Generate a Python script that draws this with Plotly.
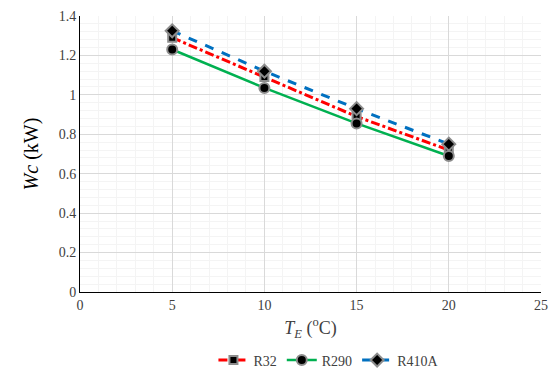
import plotly.graph_objects as go

te = [5, 10, 15, 20]
r32 = [1.29, 1.09, 0.89, 0.72]
r290 = [1.23, 1.035, 0.855, 0.69]
r410a = [1.325, 1.12, 0.93, 0.75]

font = "Times New Roman, Liberation Serif, serif"
fig = go.Figure()
mk_line = dict(color="#8c8c8c", width=2)
fig.add_trace(go.Scatter(x=te, y=r32, name="R32", mode="lines+markers",
    line=dict(color="#ff0000", width=3, dash="dashdot"),
    marker=dict(symbol="square", size=8, color="black", line=mk_line)))
fig.add_trace(go.Scatter(x=te, y=r290, name="R290", mode="lines+markers",
    line=dict(color="#00b050", width=2.5),
    marker=dict(symbol="circle", size=10, color="black", line=mk_line)))
fig.add_trace(go.Scatter(x=te, y=r410a, name="R410A", mode="lines+markers",
    line=dict(color="#0070c0", width=3, dash="dash"),
    marker=dict(symbol="diamond", size=10, color="black", line=mk_line)))

fig.update_layout(
    width=553, height=374,
    margin=dict(l=80, r=12, t=16, b=82, autoexpand=False),
    paper_bgcolor="white", plot_bgcolor="white",
    font=dict(family=font, size=14, color="#404040"),
    showlegend=True,
    legend=dict(orientation="h", x=0.54, xanchor="center", y=-0.19, yanchor="top",
                font=dict(family=font, size=14, color="#404040")),
    xaxis=dict(range=[0, 25], dtick=5, showline=True, linecolor="black", linewidth=1,
               gridcolor="#d9d9d9", gridwidth=1, zeroline=False, ticks="", automargin=False,
               minor=dict(dtick=1, showgrid=True, gridcolor="#f4f4f4"),
               title=dict(text="<i>T<sub>E</sub></i> (<sup>o</sup>C)", font=dict(family=font, size=18, color="#404040"), standoff=9),
               tickfont=dict(family=font, size=14, color="#404040")),
    yaxis=dict(range=[0, 1.4], dtick=0.2, showline=True, linecolor="black", linewidth=1,
               gridcolor="#d9d9d9", gridwidth=1, zeroline=False, ticks="", automargin=False,
               minor=dict(dtick=0.04, showgrid=True, gridcolor="#f4f4f4"),
               title=dict(text="<i>Wc</i> (kW)", font=dict(family=font, size=20, color="black"), standoff=14),
               tickfont=dict(family=font, size=14, color="#404040")),
)
fig.write_html("out.html", config={"displayModeBar": False},
               post_script="document.body.style.margin='0';document.body.style.overflow='hidden';")
